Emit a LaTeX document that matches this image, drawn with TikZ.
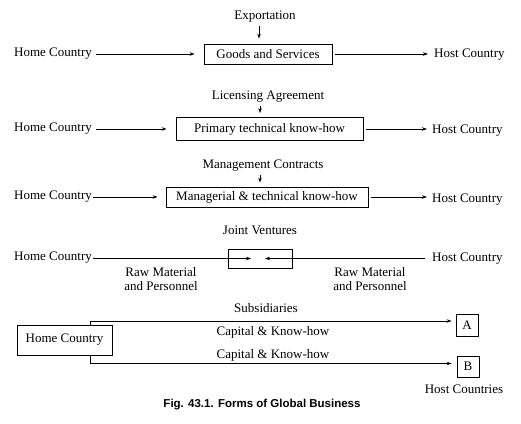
\documentclass[tikz,border=0pt]{standalone}
\usepackage{fontspec}
\setmainfont{Liberation Serif}
\newfontfamily\capfont{Liberation Sans}
\usetikzlibrary{arrows.meta}
\begin{document}
\begin{tikzpicture}[x=1pt,y=-1pt,
  font=\fontsize{13}{14.5}\selectfont,
  lbl/.style={inner sep=0pt},
  fbox/.style={draw, line width=0.8pt, inner sep=0pt},
  arr/.style={-{Stealth[length=5pt,width=3.5pt]}, line width=0.7pt},
  ln/.style={line width=0.7pt}]
\useasboundingbox (0,0) rectangle (521,423);

% Row 1: Exportation
\node[lbl] (ex) at (265,17) {Exportation};
\node[fbox, minimum width=128pt, minimum height=20pt] (g1) at (268,54) {Goods and Services};
\node[lbl, anchor=west] (hc1) at (14,54) {Home Country};
\node[lbl, anchor=west] (ho1) at (434,55) {Host Country};
\draw[arr, shorten <=3pt, shorten >=5pt] (ex.south -| 259,0) -- (g1.north -| 259,0);
\draw[arr, shorten <=4pt, shorten >=9pt] (hc1.east |- g1.west) -- (g1.west);
\draw[arr, shorten <=3pt, shorten >=6pt] (g1.east) -- (ho1.west |- g1.east);

% Row 2: Licensing
\node[lbl] (la) at (268,97) {Licensing Agreement};
\node[fbox, minimum width=187pt, minimum height=23pt] (g2) at (269.5,129) {Primary technical know-how};
\node[lbl, anchor=west] (hc2) at (14,129) {Home Country};
\node[lbl, anchor=west] (ho2) at (432,131) {Host Country};
\draw[arr, shorten <=3pt, shorten >=4pt] (la.south -| 260,0) -- (g2.north -| 260,0);
\draw[arr, shorten <=4pt, shorten >=9pt] (hc2.east |- g2.west) -- (g2.west);
\draw[arr, shorten <=3pt, shorten >=5pt] (g2.east) -- (ho2.west |- g2.east);

% Row 3: Management contracts
\node[lbl] (mc) at (263,166) {Management Contracts};
\node[fbox, minimum width=202pt, minimum height=20pt] (g3) at (267,197) {Managerial \& technical know-how};
\node[lbl, anchor=west] (hc3) at (14,197) {Home Country};
\node[lbl, anchor=west] (ho3) at (432,200) {Host Country};
\draw[arr, shorten <=3pt, shorten >=4pt] (mc.south -| 260,0) -- (g3.north -| 260,0);
\draw[arr, shorten <=1pt, shorten >=8pt] (hc3.east |- g3.west) -- (g3.west);
\draw[arr, shorten <=3pt, shorten >=5pt] (g3.east) -- (ho3.west |- g3.east);

% Row 4: Joint ventures
\node[lbl] (jvl) at (260,230) {Joint Ventures};
\node[fbox, minimum width=64pt, minimum height=19pt] (jv) at (260,258.5) {};
\node[lbl, anchor=west] (hc4) at (14,258) {Home Country};
\node[lbl, anchor=west] (ho4) at (432,259) {Host Country};
\coordinate (jl) at (251,258.5);
\coordinate (jr) at (265,258.5);
\draw[arr, shorten <=1pt] (hc4.east |- jl) -- (jl);
\draw[arr, shorten <=7pt] (ho4.west |- jr) -- (jr);
\node[lbl, align=center] (rm1) at (161,279) {Raw Material\\and Personnel};
\node[lbl, align=center] (rm2) at (370,279) {Raw Material\\and Personnel};

% Row 5: Subsidiaries
\node[lbl] (sub) at (266,308) {Subsidiaries};
\node[fbox, minimum width=95pt, minimum height=30pt] (hb) at (64.5,340) {Home Country};
\node[fbox, minimum width=22pt, minimum height=22pt] (A) at (467,325) {A};
\node[fbox, minimum width=22pt, minimum height=21pt] (B) at (468,366.5) {B};
\node[lbl] (ck1) at (273,332) {Capital \& Know-how};
\node[lbl] (ck2) at (273,355) {Capital \& Know-how};
\node[lbl] (hcs) at (464,389) {Host Countries};
\coordinate (up) at (90,321);
\coordinate (dn) at (90,363.5);
\draw[arr, shorten >=4pt] (hb.north -| up) -- (up) -- (up -| A.west);
\draw[arr, shorten >=5pt] (hb.south -| dn) -- (dn) -- (dn -| B.west);

% Caption
\node[lbl, font=\capfont\bfseries\fontsize{11.5}{13}\selectfont] (cap) at (262,405) {Fig. 43.1. Forms of Global Business};
\end{tikzpicture}
\end{document}
